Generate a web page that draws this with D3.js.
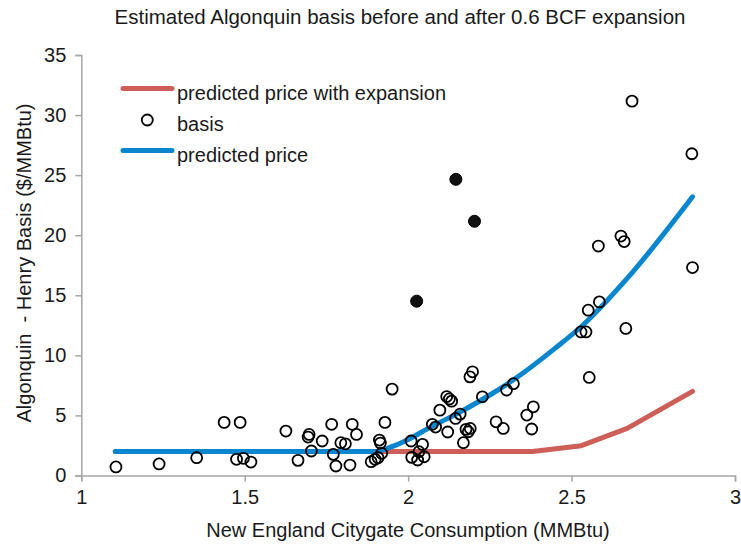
<!DOCTYPE html>
<html><head><meta charset="utf-8">
<script src="https://cdn.jsdelivr.net/npm/d3@7"></script>
<style>
html,body{margin:0;padding:0;background:#fff;}
text{font-family:"Liberation Sans",Arial,Helvetica,sans-serif;fill:#1a1a1a;}
</style></head>
<body>
<svg id="chart" width="741" height="547"></svg>
<script>
// ---- data ----
const basisX = [1.106,1.238,1.353,1.437,1.486,1.475,1.496,1.519,1.626,1.663,1.697,1.694,1.704,1.737,1.766,1.771,1.779,1.794,1.808,1.822,1.829,1.842,1.887,1.899,1.908,1.912,1.915,1.919,1.929,1.951,2.009,2.011,2.029,2.033,2.044,2.049,2.074,2.084,2.097,2.121,2.118,2.126,2.133,2.145,2.159,2.169,2.177,2.190,2.184,2.189,2.197,2.227,2.269,2.291,2.301,2.322,2.363,2.378,2.383,2.529,2.544,2.551,2.585,2.554,2.666,2.582,2.651,2.661,2.685,2.868,2.870];
const basisY = [0.71,0.96,1.48,4.42,4.42,1.35,1.43,1.12,3.70,1.26,3.42,3.20,2.04,2.87,4.26,1.76,0.79,2.73,2.64,0.87,4.26,3.42,1.15,1.35,1.48,2.95,2.70,1.85,4.42,7.19,2.87,1.51,1.29,1.98,2.59,1.56,4.26,4.03,5.44,3.62,6.57,6.37,6.19,4.75,5.11,2.73,3.84,3.92,3.64,8.21,8.63,6.55,4.47,3.92,7.11,7.64,5.03,3.87,5.72,11.95,11.95,13.76,14.45,8.16,12.24,19.10,19.93,19.47,31.16,26.78,17.31];
const outlierX = [2.026,2.146,2.203];
const outlierY = [14.51,24.65,21.16];
const predX = [1.104,1.90,1.95,2.0,2.06,2.16,2.25,2.34,2.45,2.53,2.67,2.87];
const predY = [2.0,2.0,2.4,3.0,3.9,5.3,6.7,8.3,10.6,12.4,16.4,23.2];
const expX = [1.104,2.38,2.53,2.67,2.87];
const expY = [2.0,2.0,2.48,3.92,7.0];
const xTicks = [1,1.5,2,2.5,3];
const yTicks = [0,5,10,15,20,25,30,35];
const legendLabels = ["predicted price with expansion","basis","predicted price"];
const titleText = "Estimated Algonquin basis before and after 0.6 BCF expansion";
const xTitle = "New England Citygate Consumption (MMBtu)";
const yTitle = "Algonquin  - Henry Basis ($/MMBtu)";

// ---- drawing ----
const svg = d3.select("#chart");
const x = d3.scaleLinear().domain([1,3]).range([81.3,735]);
const y = d3.scaleLinear().domain([0,35]).range([475.5,55]);
const RED = "#cd5f58", BLUE = "#0a86cf", AXIS = "#a6a6a6";
const FONT = "'Liberation Sans',Arial,Helvetica,sans-serif";

const xAxis = svg.append("g").attr("transform","translate(0,475.5)")
  .call(d3.axisBottom(x).tickValues(xTicks).tickSize(6).tickPadding(8).tickFormat(d3.format("")));
const yAxis = svg.append("g").attr("transform","translate(81.3,0)")
  .call(d3.axisLeft(y).tickValues(yTicks).tickSize(6).tickPadding(9));
[xAxis,yAxis].forEach(g=>{
  g.select(".domain").attr("stroke",AXIS).attr("stroke-width",1.5);
  g.selectAll(".tick line").attr("stroke",AXIS).attr("stroke-width",1.5);
  g.selectAll(".tick text").style("font-size","20px").attr("fill","#1a1a1a")
    .style("font-family",FONT);
});

const smooth = d3.line().x(d=>x(d[0])).y(d=>y(d[1])).curve(d3.curveMonotoneX);
const straight = d3.line().x(d=>x(d[0])).y(d=>y(d[1]));
svg.append("path").datum(d3.zip(expX,expY)).attr("d",straight)
  .attr("fill","none").attr("stroke",RED).attr("stroke-width",5)
  .attr("stroke-linecap","round").attr("stroke-linejoin","round");
svg.append("path").datum(d3.zip(predX,predY)).attr("d",smooth)
  .attr("fill","none").attr("stroke",BLUE).attr("stroke-width",5)
  .attr("stroke-linecap","round").attr("stroke-linejoin","round");

svg.append("g").selectAll("circle").data(d3.zip(basisX,basisY)).join("circle")
  .attr("cx",d=>x(d[0])).attr("cy",d=>y(d[1])).attr("r",5.5)
  .attr("fill","none").attr("stroke","#000").attr("stroke-width",1.8);
svg.append("g").selectAll("circle").data(d3.zip(outlierX,outlierY)).join("circle")
  .attr("cx",d=>x(d[0])).attr("cy",d=>y(d[1])).attr("r",6)
  .attr("fill","#111").attr("stroke","#000").attr("stroke-width",1);

// legend
const lg = svg.append("g");
lg.append("line").attr("x1",123).attr("x2",172).attr("y1",88.5).attr("y2",88.5)
  .attr("stroke",RED).attr("stroke-width",5).attr("stroke-linecap","round");
lg.append("circle").attr("cx",147.3).attr("cy",120).attr("r",5.5)
  .attr("fill","none").attr("stroke","#000").attr("stroke-width",1.8);
lg.append("line").attr("x1",123).attr("x2",172).attr("y1",150.5).attr("y2",150.5)
  .attr("stroke",BLUE).attr("stroke-width",5).attr("stroke-linecap","round");
lg.selectAll("text.lab").data(legendLabels).join("text").attr("class","lab")
  .attr("x",177).attr("y",(d,i)=>100+i*31).style("font-size","20px").text(d=>d);

svg.append("text").attr("x",400).attr("y",24).attr("text-anchor","middle")
  .style("font-size","20.5px").text(titleText);
svg.append("text").attr("x",408).attr("y",537).attr("text-anchor","middle")
  .style("font-size","20px").text(xTitle);
svg.append("text").attr("transform","translate(31,263) rotate(-90)").attr("text-anchor","middle")
  .attr("xml:space","preserve").style("white-space","pre")
  .style("font-size","20px").text(yTitle);
</script>
</body></html>
